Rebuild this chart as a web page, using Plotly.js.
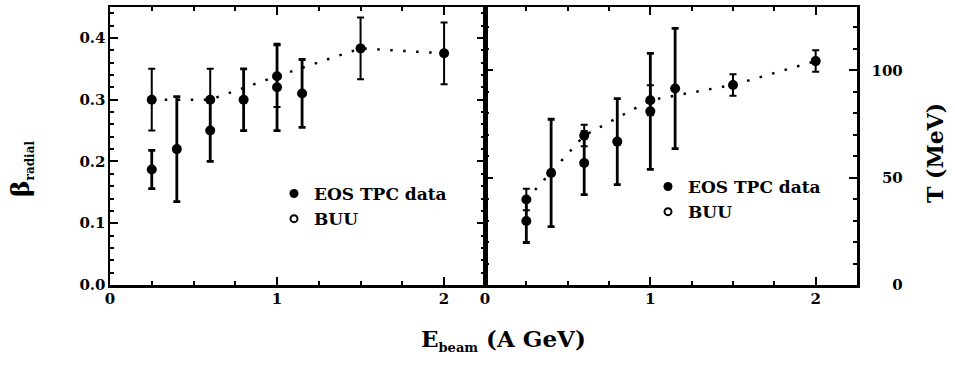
<!DOCTYPE html>
<html>
<head>
<meta charset="utf-8">
<script src="https://cdn.plot.ly/plotly-3.0.1.min.js"></script>
<style>html,body{margin:0;padding:0;background:#fff;}#chart{width:955px;height:380px;}</style>
</head>
<body>
<div id="chart"></div>
<script>
// ---- data ----
// left panel: radial flow velocity
const energyBuu = [0.25, 0.6, 1.0, 1.5, 2.0];
const betaBuu = [0.30, 0.30, 0.338, 0.383, 0.375];
const betaBuuErr = [0.05, 0.05, 0.05, 0.05, 0.05];
const energyData = [0.25, 0.4, 0.6, 0.8, 1.0, 1.15];
const betaData = [0.187, 0.22, 0.25, 0.30, 0.32, 0.31];
const betaDataErr = [0.031, 0.085, 0.05, 0.05, 0.07, 0.055];
// right panel: temperature (MeV)
const tempBuu = [39.8, 69.6, 86.1, 93.2, 104.3];
const tempBuuErr = [5, 5, 7, 5, 5];
const tempData = [29.8, 52.2, 56.8, 66.8, 80.9, 91.5];
const tempDataErr = [10, 25, 14.7, 20, 27, 28];
// tick labels
const xTickVals = [0, 1, 2];
const xTickText = ['0', '1', '2'];
const tTickVals = [0, 50, 100];
const tTickText = ['\u2007\u20070', '\u200750', '100'];
const legendLabels = ['EOS TPC data', 'BUU'];

const FONT = 'DejaVu Serif';
const W = 955, H = 380, MT = 7, MB = 95;
const PH = H - MT - MB;
const px = v => v / W;
const py = v => (H - MB - v) / PH;

function errObj(arr, th) {
  return {type: 'data', array: arr, visible: true, color: '#000', thickness: th, width: 3.5};
}

const traces = [
  {x: energyBuu, y: betaBuu, xaxis: 'x', yaxis: 'y', mode: 'lines+markers', showlegend: false,
   line: {color: '#000', width: 2.5, dash: '2.5px,10.5px'},
   marker: {color: '#000', size: 10}, error_y: errObj(betaBuuErr, 2)},
  {x: energyData, y: betaData, xaxis: 'x', yaxis: 'y', mode: 'markers', showlegend: false,
   marker: {color: '#000', size: 10}, error_y: errObj(betaDataErr, 2.8)},
  {x: energyBuu, y: tempBuu, xaxis: 'x2', yaxis: 'y2', mode: 'lines+markers', showlegend: false,
   line: {color: '#000', width: 2.5, dash: '2.5px,10.5px'},
   marker: {color: '#000', size: 10}, error_y: errObj(tempBuuErr, 2)},
  {x: energyData, y: tempData, xaxis: 'x2', yaxis: 'y2', mode: 'markers', showlegend: false,
   marker: {color: '#000', size: 10}, error_y: errObj(tempDataErr, 2.8)},
  // legend entries
  {x: [null], y: [null], xaxis: 'x', yaxis: 'y', mode: 'markers', name: legendLabels[0], legend: 'legend',
   marker: {color: '#000', size: 9}},
  {x: [null], y: [null], xaxis: 'x', yaxis: 'y', mode: 'markers', name: legendLabels[1], legend: 'legend',
   marker: {color: '#000', size: 7, symbol: 'circle-open', line: {color: '#000', width: 2}}},
  {x: [null], y: [null], xaxis: 'x2', yaxis: 'y2', mode: 'markers', name: legendLabels[0], legend: 'legend2',
   marker: {color: '#000', size: 9}},
  {x: [null], y: [null], xaxis: 'x2', yaxis: 'y2', mode: 'markers', name: legendLabels[1], legend: 'legend2',
   marker: {color: '#000', size: 7, symbol: 'circle-open', line: {color: '#000', width: 2}}}
];

const tickFont = {family: FONT, size: 15, color: '#000', weight: 'bold'};
const common = {
  showgrid: false, zeroline: false, showline: true, linecolor: '#000', linewidth: 2.5,
  ticks: 'inside', mirror: 'ticks', ticklen: 8, tickwidth: 2, tickcolor: '#000',
  tickfont: tickFont
};
const xCommon = Object.assign({}, common, {
  tickmode: 'array', tickvals: xTickVals, ticktext: xTickText, ticklabelstandoff: -2,
  minor: {dtick: 0.25, tick0: 0, ticks: 'inside', ticklen: 4, tickwidth: 2, tickcolor: '#000', showgrid: false}
});

const legendFont = {family: FONT, size: 17, color: '#000', weight: 'bold'};

const layout = {
  width: W, height: H,
  margin: {l: 0, r: 0, t: MT, b: MB},
  paper_bgcolor: '#fff', plot_bgcolor: '#fff',
  font: {family: FONT, color: '#000'},
  xaxis: Object.assign({}, xCommon, {domain: [px(110), px(485)], range: [0, 2.245], anchor: 'y'}),
  xaxis2: Object.assign({}, xCommon, {domain: [px(485), px(857)], range: [0, 2.25], anchor: 'y2'}),
  yaxis: Object.assign({}, common, {range: [0, 0.45], dtick: 0.1, tick0: 0, tickformat: '.1f', anchor: 'x',
    ticklabelstandoff: -1,
    minor: {dtick: 0.02, tick0: 0, ticks: 'inside', ticklen: 4, tickwidth: 2, tickcolor: '#000', showgrid: false}}),
  yaxis2: Object.assign({}, common, {range: [0, 129.5], side: 'right', anchor: 'x2',
    tickmode: 'array', tickvals: tTickVals, ticktext: tTickText, ticklabelstandoff: 9,
    minor: {dtick: 10, tick0: 0, ticks: 'inside', ticklen: 4, tickwidth: 2, tickcolor: '#000', showgrid: false}}),
  legend: {x: px(274), y: py(176), xanchor: 'left', yanchor: 'top', bgcolor: 'rgba(0,0,0,0)',
    font: legendFont, itemwidth: 30},
  legend2: {x: px(648), y: py(169), xanchor: 'left', yanchor: 'top', bgcolor: 'rgba(0,0,0,0)',
    font: legendFont, itemwidth: 30},
  annotations: [
    {xref: 'paper', yref: 'paper', x: px(22), y: py(169), textangle: -90, showarrow: false,
     xanchor: 'center', yanchor: 'middle',
     text: '<b>\u03b2<sub><span style="font-size:12px">radial</span></sub></b>',
     font: {family: FONT, size: 25, color: '#000'}},
    {xref: 'paper', yref: 'paper', x: px(935), y: py(153), textangle: -90, showarrow: false,
     xanchor: 'center', yanchor: 'middle', text: '<b>T (MeV)</b>',
     font: {family: FONT, size: 22, color: '#000'}},
    {xref: 'paper', yref: 'paper', x: px(503), y: py(340), showarrow: false,
     xanchor: 'center', yanchor: 'middle',
     text: '<b>E<sub><span style="font-size:13px">beam</span></sub> (A GeV)</b>',
     font: {family: FONT, size: 23, color: '#000'}}
  ]
};

Plotly.newPlot('chart', traces, layout, {displayModeBar: false, staticPlot: true});
</script>
</body>
</html>
